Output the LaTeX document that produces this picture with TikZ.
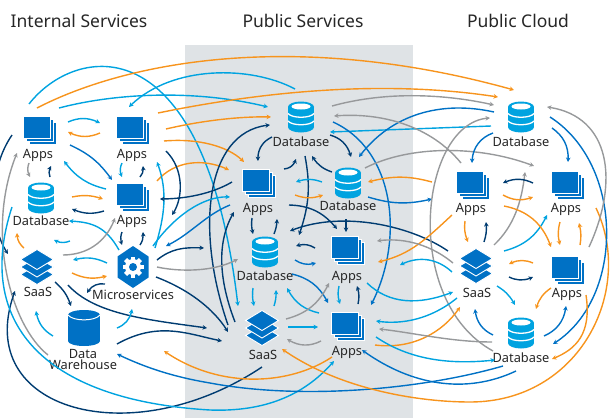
\documentclass[tikz,border=0pt]{standalone}
\usepackage{fontspec}
\setmainfont{Noto Sans}
\usetikzlibrary{arrows.meta,bending}

\definecolor{skyc}{HTML}{00A3E0}
\definecolor{bluc}{HTML}{0071C5}
\definecolor{navc}{HTML}{003C71}
\definecolor{orgc}{HTML}{F7941D}
\definecolor{gryc}{HTML}{97999B}
\definecolor{panel}{HTML}{DFE3E6}

\tikzset{
	flow/.style={line width=1.4pt,-{Stealth[length=4.5pt,width=4.6pt]}},
	sky/.style={flow,draw=skyc},
	blu/.style={flow,draw=bluc},
	nav/.style={flow,draw=navc},
	org/.style={flow,draw=orgc},
	gry/.style={flow,draw=gryc},
	head/.style={font=\fontsize{17.5}{20}\selectfont,text=black!85},
	lab/.style={font=\fontsize{12.8}{11}\selectfont,text=black!85,inner sep=0pt,align=center},
	spot/.style={inner sep=0pt,minimum width=30pt,minimum height=30pt},
	appsicon/.pic={
		\foreach \s in {6,3,0}
			\filldraw[fill=bluc,draw=white,line width=.7pt] (-16.5+\s,-14+\s) rectangle (10.5+\s,8.5+\s);
	},
	dbicon/.pic={
		\fill[skyc] (-13,-10) rectangle (13,10);
		\fill[skyc] (0,-10) ellipse (13 and 5.5);
		\fill[skyc] (0,10) ellipse (13 and 5.5);
		\fill[white] (0,-10.5) ellipse (9.5 and 3);
		\draw[white,line width=1.3pt] (-13,-3.5) .. controls (-9,1.5) and (9,1.5) .. (13,-3.5);
		\draw[white,line width=1.3pt] (-13,4) .. controls (-9,9) and (9,9) .. (13,4);
	},
	saasicon/.pic={
		\foreach \s in {7.5,0,-7.5}
			\filldraw[fill=bluc,draw=white,line width=.9pt] (-16.5,\s) -- (0,\s-10) -- (16.5,\s) -- (0,\s+10) -- cycle;
	},
	hexicon/.pic={
		\fill[bluc] (0,-21) -- (15.5,-10.5) -- (15.5,10.5) -- (0,21) -- (-15.5,10.5) -- (-15.5,-10.5) -- cycle;
		\foreach \a in {0,45,90,135}
			\fill[white,rotate=\a] (-2.2,-10.5) rectangle (2.2,10.5);
		\fill[white] (0,0) circle (8);
		\fill[bluc] (0,0) circle (4);
	},
	dwicon/.pic={
		\fill[bluc] (-16,-13) rectangle (16,13);
		\fill[bluc] (0,-13) ellipse (16 and 5);
		\fill[bluc] (0,13) ellipse (16 and 5);
		\draw[white,line width=1pt] (-16,-13) .. controls (-11,-6.5) and (11,-6.5) .. (16,-13);
	},
}

\begin{document}
\begin{tikzpicture}[x=1pt,y=-1pt]
	\useasboundingbox (0,0) rectangle (613,418);
	\fill[panel] (185,45) rectangle (413,418);

	\node[head] (title1) at (79,21) {Internal Services};
	\node[head] (title2) at (303,21) {Public Services};
	\node[head] (title3) at (518,21) {Public Cloud};

	\foreach \n/\x/\y/\lx/\ly in {ia1/40/130/38/155,ia2/133/130/132/155,ia3/133/197/132/221,pa1/259/183/258/209,pa2/348/250/347/277,pa3/348/326/347/352,ca1/473/185/471/209,ca2/568/185/566/209,ca3/568/270/567/294}{
		\node[spot] (\n) at (\x,\y) {};
		\pic at (\x,\y) {appsicon};
		\node[lab] (\n t) at (\lx,\ly) {Apps};
	}
	\foreach \n/\x/\y/\lx/\ly in {id1/41/198/41/221,pd1/301/117/301/142,pd2/348/183/348/206,pd3/265/252/265/276,cd1/521/117/521/142,cd2/521/333/521/358}{
		\node[spot] (\n) at (\x,\y) {};
		\pic at (\x,\y) {dbicon};
		\node[lab] (\n t) at (\lx,\ly) {Database};
	}
	\foreach \n/\x/\y/\lx/\ly in {is/37/267/38/292,ps/262/328/263/355,cs/476/266/477/293}{
		\node[spot] (\n) at (\x,\y) {};
		\pic at (\x,\y) {saasicon};
		\node[lab] (\n t) at (\lx,\ly) {SaaS};
	}
	\node[spot] (ms) at (133,267) {};
	\pic at (133,267) {hexicon};
	\node[lab] (ms t) at (133,295) {Microservices};
	\node[spot] (dw) at (84,328) {};
	\pic at (84,328) {dwicon};
	\node[lab] (dw t) at (83,359.5) {Data\\Warehouse};

	% internal services
	\draw[sky] ([shift={(-11,-26)}]ia1.center) .. controls (75,45) and (205,20) .. ([shift={(-24,-22)}]ps.center);
	\draw[org] ([shift={(-3,-22)}]ia1.center) .. controls (130,60) and (300,30) .. ([shift={(-7,-27)}]cd1.center);
	\draw[sky] ([shift={(19,-22)}]ia1.center) .. controls (120,92) and (200,90) .. ([shift={(-33,-10)}]pd1.center);
	\draw[sky] ([shift={(-6,-28)}]pd1.center) .. controls (250,65) and (170,65) .. ([shift={(-4,-23)}]ia2.center);
	\draw[org] ([shift={(25,-17)}]ia2.center) .. controls (270,90) and (390,80) .. ([shift={(-23,-20)}]cd1.center);
	\draw[org] ([shift={(33,-1)}]ia2.center) .. controls (200,121) and (240,116) .. ([shift={(-30,0)}]pd1.center);
	\draw[org] ([shift={(31,11)}]ia2.center) .. controls (200,138) and (230,147) .. ([shift={(-15,-21)}]pa1.center);
	\draw[org] ([shift={(24,-16)}]ia3.center) .. controls (175,160) and (205,158) .. ([shift={(-30,-13)}]pa1.center);
	\draw[nav] ([shift={(33,21)}]ia2.center) .. controls (185,170) and (183,200) .. ([shift={(39,18)}]ia3.center);
	\draw[sky] ([shift={(22,-19)}]ms.center) .. controls (165,215) and (168,190) .. ([shift={(24,-35)}]ia3.center);
	\draw[nav] ([shift={(-27,-1)}]pa1.center) .. controls (215,192) and (190,199) .. ([shift={(27,2)}]ia3.center);
	\draw[sky] ([shift={(28,-8)}]ia1.center) to[bend left=25] ([shift={(-33,-7)}]ia2.center);
	\draw[org] ([shift={(-33,3)}]ia2.center) to[bend left=25] ([shift={(28,2)}]ia1.center);
	\draw[blu] ([shift={(30,15)}]ia1.center) to[bend left=15] ([shift={(-21,-17)}]ia3.center);
	\draw[sky] ([shift={(-27,-8)}]ia3.center) to[bend left=20] ([shift={(24,31)}]ia1.center);
	\draw[gry] ([shift={(-11,33)}]ia1.center) to[bend right=25] ([shift={(-11,-21)}]id1.center);
	\draw[nav] ([shift={(9,-21)}]id1.center) to[bend left=25] ([shift={(11,36)}]ia1.center);
	\draw[sky] ([shift={(-11,33)}]ia2.center) to[bend right=25] ([shift={(-11,-20)}]ia3.center);
	\draw[nav] ([shift={(7,-20)}]ia3.center) to[bend right=25] ([shift={(10,36)}]ia2.center);
	\draw[nav] ([shift={(-28,5)}]ia1.center) .. controls (-12,170) and (-12,225) .. ([shift={(-29,-13)}]is.center);
	\draw[gry] ([shift={(-36,27)}]dw.center) .. controls (10,325) and (-15,230) .. ([shift={(-23,23)}]ia1.center);
	\draw[org] ([shift={(31,-1)}]id1.center) to[bend left=15] ([shift={(-30,2)}]ia3.center);
	\draw[nav] ([shift={(-29,14)}]ia3.center) to[bend left=20] ([shift={(31,11)}]id1.center);
	\draw[sky] ([shift={(-14,-17)}]ms.center) .. controls (105,225) and (90,222) .. ([shift={(28,23)}]id1.center);
	\draw[org] ([shift={(-13,-19)}]is.center) to[bend left=25] ([shift={(-24,35)}]id1.center);
	\draw[sky] ([shift={(29,43)}]id1.center) to[bend left=25] ([shift={(13,42)}]id1.center);
	\draw[gry] ([shift={(26,-12)}]is.center) to[bend right=35] ([shift={(-18,21)}]ia3.center);
	\draw[nav] ([shift={(-11,35)}]ia3.center) to[bend right=20] ([shift={(-11,-22)}]ms.center);
	\draw[nav] ([shift={(7,-22)}]ms.center) to[bend right=20] ([shift={(10,35)}]ia3.center);
	\draw[sky] ([shift={(-26,-4)}]ms.center) to[bend right=20] ([shift={(36,-7)}]is.center);
	\draw[org] ([shift={(35,6)}]is.center) to[bend right=20] ([shift={(-26,9)}]ms.center);
	\draw[nav] ([shift={(-28,17)}]ms.center) to[bend right=35] ([shift={(3,-35)}]dw.center);
	\draw[nav] ([shift={(18,15)}]is.center) to[bend left=15] ([shift={(-13,-22)}]dw.center);
	\draw[nav] ([shift={(31,18)}]is.center) .. controls (95,315) and (150,320) .. ([shift={(-55,0)}]ps.center);
	\draw[sky] ([shift={(-31,8)}]dw.center) to[bend left=25] ([shift={(-1,44)}]is.center);
	\draw[sky] ([shift={(33,0)}]dw.center) to[bend right=30] ([shift={(-1,42)}]ms.center);
	\draw[nav] ([shift={(0,39)}]ps.center) .. controls (130,455) and (-30,410) .. ([shift={(-22,24)}]is.center);
	\draw[sky] ([shift={(-29,9)}]id1.center) .. controls (-25,320) and (40,400) .. (210,410) .. controls (265,412) and (305,395) .. ([shift={(-14,35)}]pa3.center);
	\draw[nav] ([shift={(33,16)}]dw.center) .. controls (160,320) and (190,335) .. ([shift={(-40,13)}]ps.center);
	\draw[nav] ([shift={(23,10)}]ms.center) .. controls (190,290) and (215,310) .. ([shift={(-34,4)}]ps.center);
	\draw[nav] ([shift={(-34,-3)}]ps.center) .. controls (195,230) and (205,130) .. ([shift={(-31,8)}]pd1.center);
	\draw[nav] ([shift={(-27,-6)}]ps.center) .. controls (215,270) and (220,235) .. ([shift={(-25,29)}]pa1.center);
	\draw[nav] ([shift={(24,-7)}]ms.center) .. controls (172,248) and (185,247) .. ([shift={(-61,-4)}]pd3.center);
	\draw[sky] ([shift={(20,-21)}]ms.center) .. controls (175,215) and (205,195) .. ([shift={(-29,14)}]pa1.center);
	\draw[blu] ([shift={(-29,22)}]pa1.center) .. controls (205,215) and (190,235) .. ([shift={(33,-21)}]ms.center);
	\draw[gry] ([shift={(24,0)}]ms.center) .. controls (180,272) and (215,272) .. ([shift={(-27,7)}]pd3.center);
	\draw[blu] ([shift={(-18,33)}]cd2.center) .. controls (420,390) and (300,400) .. (210,383) .. controls (180,378) and (150,370) .. ([shift={(33,26)}]dw.center);
	\draw[blu] ([shift={(-5,38)}]cd2.center) .. controls (465,395) and (410,385) .. ([shift={(14,24)}]pa3.center);
	\draw[org] ([shift={(-16,31)}]pa3.center) .. controls (290,385) and (220,390) .. ([shift={(80,23)}]dw.center);
	\draw[org] ([shift={(28,23)}]ca2.center) .. controls (635,290) and (580,402) .. (470,402) .. controls (420,402) and (340,390) .. ([shift={(20,21)}]ps.center);

	% public services
	\draw[nav] ([shift={(-29,20)}]pd1.center) to[bend right=35] ([shift={(-1,-22)}]pa1.center);
	\draw[nav] ([shift={(25,-14)}]pa1.center) to[bend right=35] ([shift={(-5,42)}]pd1.center);
	\draw[nav] ([shift={(-16,-11)}]pd2.center) to[bend left=20] ([shift={(11,39)}]pd1.center);
	\draw[nav] ([shift={(29,18)}]pd1.center) to[bend left=30] ([shift={(3,-26)}]pd2.center);
	\draw[nav] ([shift={(4,39)}]pd1.center) to[bend left=15] ([shift={(34,-17)}]pd3.center);
	\draw[sky] ([shift={(-26,-1)}]pd2.center) to[bend right=20] ([shift={(-52,-1)}]pd2.center);
	\draw[org] ([shift={(-53,12)}]pd2.center) to[bend right=20] ([shift={(-25,12)}]pd2.center);
	\draw[nav] ([shift={(24,-47)}]pd3.center) to[bend left=25] ([shift={(-11,-21)}]pa2.center);
	\draw[nav] ([shift={(-2,36)}]pd2.center) -- ([shift={(-2,-18)}]pa2.center);
	\draw[nav] ([shift={(-28,-15)}]cs.center) .. controls (410,225) and (340,210) .. ([shift={(25,-21)}]pd3.center);
	\draw[sky] ([shift={(-30,9)}]cd1.center) -- ([shift={(29,15)}]pd1.center);
	\draw[blu] ([shift={(-27,-5)}]cd1.center) .. controls (440,100) and (390,115) .. ([shift={(11,-26)}]pd2.center);
	\draw[gry] ([shift={(31,-11)}]pd1.center) .. controls (390,90) and (450,95) .. ([shift={(-27,-12)}]cd1.center);
	\draw[gry] ([shift={(-12,-22)}]ca1.center) .. controls (430,125) and (380,112) .. ([shift={(33,-1)}]pd1.center);
	\draw[blu] ([shift={(32,5)}]pd1.center) .. controls (395,150) and (405,240) .. ([shift={(23,-21)}]pa3.center);
	\draw[gry] ([shift={(17,-15)}]pd2.center) .. controls (410,145) and (480,145) .. ([shift={(-34,-19)}]ca2.center);
	\draw[org] ([shift={(-41,-3)}]ca1.center) to[bend right=15] ([shift={(20,-1)}]pd2.center);
	\draw[blu] ([shift={(20,14)}]pd2.center) to[bend right=15] ([shift={(-41,14)}]ca1.center);
	\draw[gry] ([shift={(-28,18)}]cd2.center) .. controls (400,300) and (420,120) .. ([shift={(-31,1)}]cd1.center);
	\draw[org] ([shift={(-21,30)}]ca1.center) .. controls (425,240) and (410,255) .. ([shift={(30,12)}]pa2.center);
	\draw[gry] ([shift={(-23,-3)}]cs.center) .. controls (425,240) and (395,238) .. ([shift={(29,-9)}]pa2.center);
	\draw[sky] ([shift={(-24,6)}]cs.center) to[bend right=35] ([shift={(52,15)}]pa2.center);
	\draw[sky] ([shift={(19,33)}]pa2.center) .. controls (390,305) and (420,305) .. ([shift={(-23,26)}]cs.center);
	\draw[sky] ([shift={(-19,32)}]cs.center) .. controls (430,320) and (400,325) .. ([shift={(28,-5)}]pa3.center);
	\draw[org] ([shift={(27,19)}]pa3.center) .. controls (415,350) and (445,330) .. ([shift={(-16,41)}]cs.center);
	\draw[gry] ([shift={(-29,9)}]cd2.center) .. controls (450,342) and (410,332) .. ([shift={(31,3)}]pa3.center);
	\draw[sky] ([shift={(28,11)}]pa3.center) .. controls (410,360) and (450,365) .. ([shift={(-26,27)}]cd2.center);
	\draw[nav] ([shift={(-7,35)}]pa1.center) to[bend right=10] ([shift={(-12,-18)}]pd3.center);
	\draw[nav] ([shift={(9,-18)}]pd3.center) to[bend right=10] ([shift={(18,36)}]pa1.center);
	\draw[nav] ([shift={(-33,-2)}]pa2.center) to[bend right=25] ([shift={(31,-6)}]pd3.center);
	\draw[blu] ([shift={(30,8)}]pd3.center) to[bend right=25] ([shift={(-32,13)}]pa2.center);
	\draw[blu] ([shift={(27,22)}]pd3.center) to[bend left=25] ([shift={(-20,-23)}]pa3.center);
	\draw[sky] ([shift={(-29,-13)}]pa3.center) to[bend left=25] ([shift={(22,36)}]pd3.center);
	\draw[sky] ([shift={(-12,36)}]pd3.center) to[bend right=10] ([shift={(-8,-22)}]ps.center);
	\draw[sky] ([shift={(12,-22)}]ps.center) to[bend right=10] ([shift={(11,38)}]pd3.center);
	\draw[gry] ([shift={(24,-9)}]ps.center) to[bend right=25] ([shift={(-19,33)}]pa2.center);
	\draw[sky] ([shift={(26,-1)}]ps.center) -- ([shift={(-30,1)}]pa3.center);
	\draw[gry] ([shift={(-27,15)}]pa3.center) to[bend left=30] ([shift={(25,11)}]ps.center);
	\draw[sky] ([shift={(-9,36)}]pa2.center) to[bend right=15] ([shift={(-8,-22)}]pa3.center);
	\draw[nav] ([shift={(10,-22)}]pa3.center) to[bend right=15] ([shift={(9,36)}]pa2.center);

	% public cloud
	\draw[blu] ([shift={(-28,16)}]cd1.center) to[bend right=35] ([shift={(-1,-22)}]ca1.center);
	\draw[blu] ([shift={(31,11)}]cd1.center) to[bend left=30] ([shift={(0,-23)}]ca2.center);
	\draw[blu] ([shift={(29,0)}]cd1.center) .. controls (625,165) and (625,300) .. ([shift={(32,11)}]cd2.center);
	\draw[gry] ([shift={(21,-23)}]ca3.center) .. controls (620,180) and (610,115) .. ([shift={(26,-10)}]cd1.center);
	\draw[org] ([shift={(18,25)}]ca3.center) .. controls (592,335) and (575,350) .. ([shift={(31,26)}]cd2.center);
	\draw[org] ([shift={(-17,18)}]ca3.center) to[bend right=20] ([shift={(15,-24)}]cd2.center);
	\draw[blu] ([shift={(23,3)}]cd2.center) to[bend right=30] ([shift={(-2,36)}]ca3.center);
	\draw[blu] ([shift={(-28,2)}]cd2.center) to[bend left=30] ([shift={(-1,43)}]cs.center);
	\draw[sky] ([shift={(21,20)}]cs.center) to[bend left=15] ([shift={(-6,-28)}]cd2.center);
	\draw[org] ([shift={(-35,-7)}]ca3.center) to[bend right=25] ([shift={(33,-2)}]cs.center);
	\draw[nav] ([shift={(33,11)}]cs.center) to[bend right=25] ([shift={(-35,7)}]ca3.center);
	\draw[org] ([shift={(-8,36)}]ca1.center) to[bend right=15] ([shift={(-8,-24)}]cs.center);
	\draw[nav] ([shift={(8,-24)}]cs.center) to[bend right=12] ([shift={(13,37)}]ca1.center);
	\draw[gry] ([shift={(18,-21)}]cs.center) .. controls (515,225) and (522,200) .. ([shift={(4,55)}]cd1.center);
	\draw[sky] ([shift={(28,-15)}]cs.center) to[bend right=25] ([shift={(-21,30)}]ca2.center);
	\draw[org] ([shift={(31,21)}]ca1.center) to[bend left=30] ([shift={(-17,-23)}]ca3.center);
	\draw[org] ([shift={(-8,37)}]ca2.center) to[bend right=15] ([shift={(-8,-25)}]ca3.center);
	\draw[org] ([shift={(12,-25)}]ca3.center) to[bend right=12] ([shift={(11,38)}]ca2.center);
	\draw[nav] ([shift={(-35,-2)}]ca2.center) to[bend right=25] ([shift={(30,-2)}]ca1.center);
	\draw[org] ([shift={(30,10)}]ca1.center) to[bend right=25] ([shift={(-35,12)}]ca2.center);
\end{tikzpicture}
\end{document}
